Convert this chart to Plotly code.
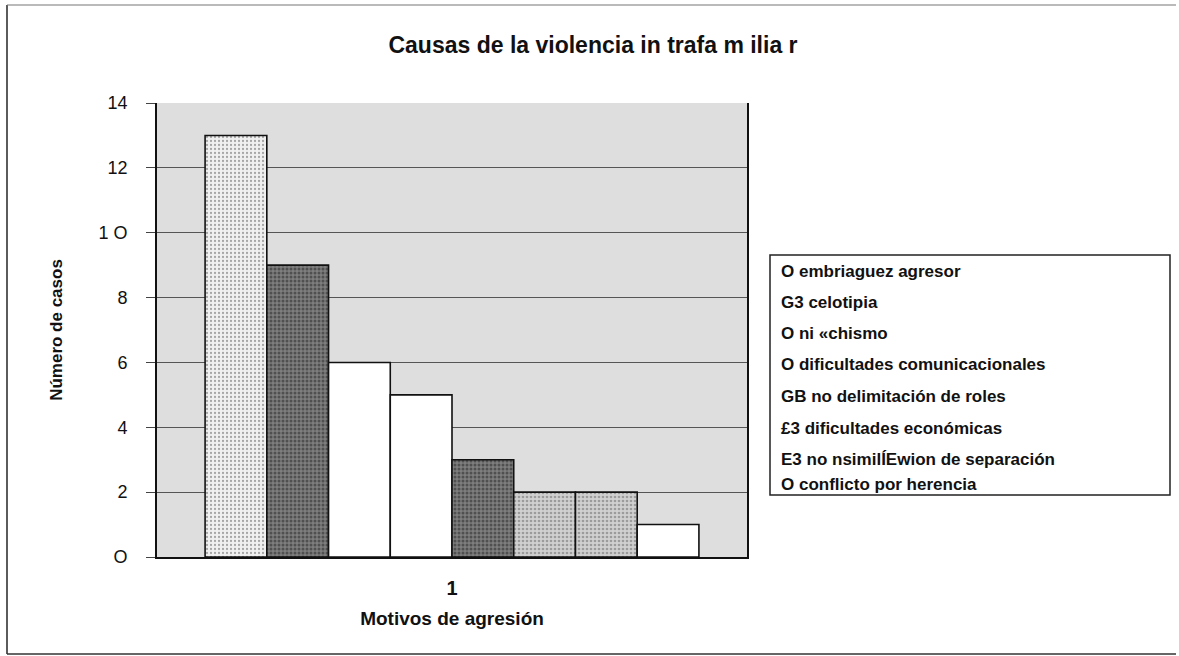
import plotly.graph_objects as go

categories = ["1"]
series_names = [
    "O embriaguez agresor",
    "G3 celotipia",
    "O ni «chismo",
    "O dificultades comunicacionales",
    "GB no delimitación de roles",
    "£3 dificultades económicas",
    "E3 no nsimilÍEwion de separación",
    "O conflicto por herencia",
]
series_values = [13, 9, 6, 5, 3, 2, 2, 1]
tick_vals = [0, 2, 4, 6, 8, 10, 12, 14]
tick_text = ["O", "2", "4", "6", "8", "1 O", "12", "14"]

styles = [
    dict(bg="#f0f0f0", fg="#5a5a5a", sol=0.25),
    dict(bg="#7e7e7e", fg="#222222", sol=0.45),
    dict(bg="#ffffff", fg="#ffffff", sol=0.1),
    dict(bg="#ffffff", fg="#ffffff", sol=0.1),
    dict(bg="#7e7e7e", fg="#222222", sol=0.45),
    dict(bg="#d0d0d0", fg="#666666", sol=0.35),
    dict(bg="#d0d0d0", fg="#666666", sol=0.35),
    dict(bg="#ffffff", fg="#ffffff", sol=0.1),
]

W, H = 1179, 656
ml, mr, mt, mb = 157, 432, 103, 99
pw, ph = W - ml - mr, H - mt - mb
FONT = "Arial, Liberation Sans, sans-serif"

fig = go.Figure()
for name, val, st in zip(series_names, series_values, styles):
    fig.add_trace(go.Bar(
        x=categories, y=[val], name=name,
        marker=dict(color=st["bg"], line=dict(color="#111111", width=1.6),
                    pattern=dict(shape=".", fgcolor=st["fg"], bgcolor=st["bg"],
                                 size=4, solidity=st["sol"])),
    ))

def px_x(px):
    return (px - ml) / pw

def px_y(py):
    return (H - mb - py) / ph

line_style = dict(color="#333333", width=1.6)
shapes = [
    # figure border (left, top, bottom)
    dict(type="line", xref="paper", yref="paper", x0=px_x(7), x1=px_x(7),
         y0=px_y(654), y1=px_y(5), line=line_style),
    dict(type="line", xref="paper", yref="paper", x0=px_x(7), x1=px_x(1176),
         y0=px_y(5), y1=px_y(5), line=dict(color="#777777", width=1.2)),
    dict(type="line", xref="paper", yref="paper", x0=px_x(7), x1=px_x(1176),
         y0=px_y(654), y1=px_y(654), line=line_style),
    # legend box
    dict(type="rect", xref="paper", yref="paper",
         x0=px_x(770), x1=px_x(1170), y0=px_y(495), y1=px_y(255),
         line=dict(color="#222222", width=1.5), fillcolor="white"),
]

legend_y = [271, 302, 333, 364, 396, 428, 459, 484]
annotations = []
for name, ly in zip(series_names, legend_y):
    annotations.append(dict(
        xref="paper", yref="paper", x=px_x(779), y=px_y(ly),
        xanchor="left", yanchor="middle", showarrow=False, text="<b>%s</b>" % name,
        font=dict(family=FONT, size=17, color="#111111"),
    ))

fig.update_layout(
    width=W, height=H,
    margin=dict(l=ml, r=mr, t=mt, b=mb),
    paper_bgcolor="white",
    plot_bgcolor="#dedede",
    barmode="group",
    bargap=0.163,
    bargroupgap=0,
    showlegend=False,
    title=dict(text="<b>Causas de la violencia in trafa m ilia r</b>", x=593 / W, xanchor="center",
               y=1 - 45 / H, yanchor="middle",
               font=dict(family=FONT, size=23, color="#111111")),
    font=dict(family=FONT, color="#111111"),
    shapes=shapes,
    annotations=annotations,
)
fig.update_yaxes(
    range=[0, 14], tickvals=tick_vals, ticktext=tick_text,
    tickfont=dict(size=18), ticks="outside", ticklen=9, tickcolor="#444",
    showgrid=True, gridcolor="#555555", gridwidth=1.3,
    showline=True, linecolor="#111111", linewidth=1.6, zeroline=False, mirror=True,
    ticklabelstandoff=15,
    title=dict(text="<b>Número de casos</b>", font=dict(size=17), standoff=32),
)
fig.update_xaxes(
    tickfont=dict(size=20), ticks="", showline=True, linecolor="#111111", linewidth=1.6,
    tickvals=categories, ticktext=["<b>1</b>"],
    ticklabelstandoff=12,
    title=dict(text="<b>Motivos de agresión</b>", font=dict(size=19), standoff=14),
)
fig.write_html("out.html", config={"displayModeBar": False},
               post_script="document.body.style.margin='0px';")
